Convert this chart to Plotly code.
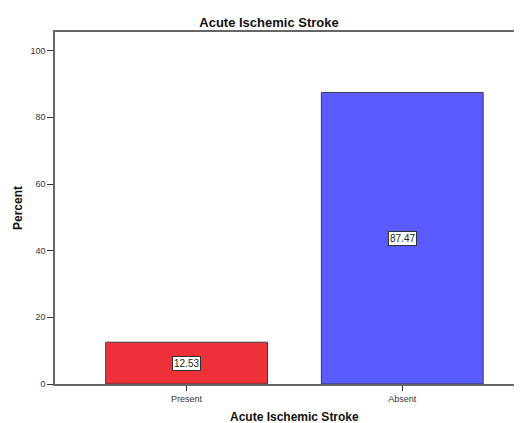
import plotly.graph_objects as go

categories = ["Present", "Absent"]
percents = [12.53, 87.47]
bar_colors = ["#EE3039", "#5B5CFF"]
y_ticks = [0, 20, 40, 60, 80, 100]

FONT = "Liberation Sans, Arial, sans-serif"
W, H = 514, 415  # page has an 8px body margin
ML, MR, MT, MB = 47, 0, 24, 39
PW, PH = W - ML - MR, H - MT - MB

fig = go.Figure()
fig.add_trace(go.Bar(
    x=categories, y=percents, width=0.75,
    marker=dict(color=bar_colors, line=dict(color="#3a3a4a", width=1)),
    hoverinfo="skip",
))

for c, v in zip(categories, percents):
    fig.add_annotation(
        x=c, y=v / 2, text=f"{v:.2f}", showarrow=False,
        font=dict(family=FONT, size=10, color="#222"),
        bgcolor="white", bordercolor="#333", borderwidth=1, borderpad=1,
    )

# axis titles
fig.add_annotation(
    xref="paper", yref="paper", x=(286 - ML) / PW, y=-33 / PH,
    xanchor="center", yanchor="middle", showarrow=False,
    text="<b>Acute Ischemic Stroke</b>", font=dict(family=FONT, size=12, color="#111"),
)
fig.add_annotation(
    xref="paper", yref="paper", x=-37 / PW, y=0.5, textangle=-90,
    xanchor="center", yanchor="middle", showarrow=False,
    text="<b>Percent</b>", font=dict(family=FONT, size=12, color="#111"),
)

fig.update_layout(
    width=W, height=H,
    margin=dict(l=ML, r=MR, t=MT, b=MB),
    paper_bgcolor="white", plot_bgcolor="white",
    showlegend=False,
    font=dict(family=FONT, size=9, color="#333"),
    title=dict(text="<b>Acute Ischemic Stroke</b>", x=261 / W, xanchor="center",
               y=1 - 14 / H, yanchor="middle",
               font=dict(family=FONT, size=13, color="#111")),
    xaxis=dict(
        range=[-0.61, 1.555], showline=True, linecolor="#666", linewidth=1.5,
        mirror=True, ticks="outside", ticklen=5, tickcolor="#333", tickwidth=1,
        showgrid=False, zeroline=False, automargin=False,
        tickfont=dict(family=FONT, size=9, color="#333"),
    ),
    yaxis=dict(
        range=[0, 105.6], tickvals=y_ticks, showline=True, linecolor="#666", linewidth=1.5,
        ticks="outside", ticklen=6, tickcolor="#333", tickwidth=1,
        showgrid=False, zeroline=False, automargin=False,
        tickfont=dict(family=FONT, size=9, color="#333"),
    ),
)

fig.write_html("out.html")
